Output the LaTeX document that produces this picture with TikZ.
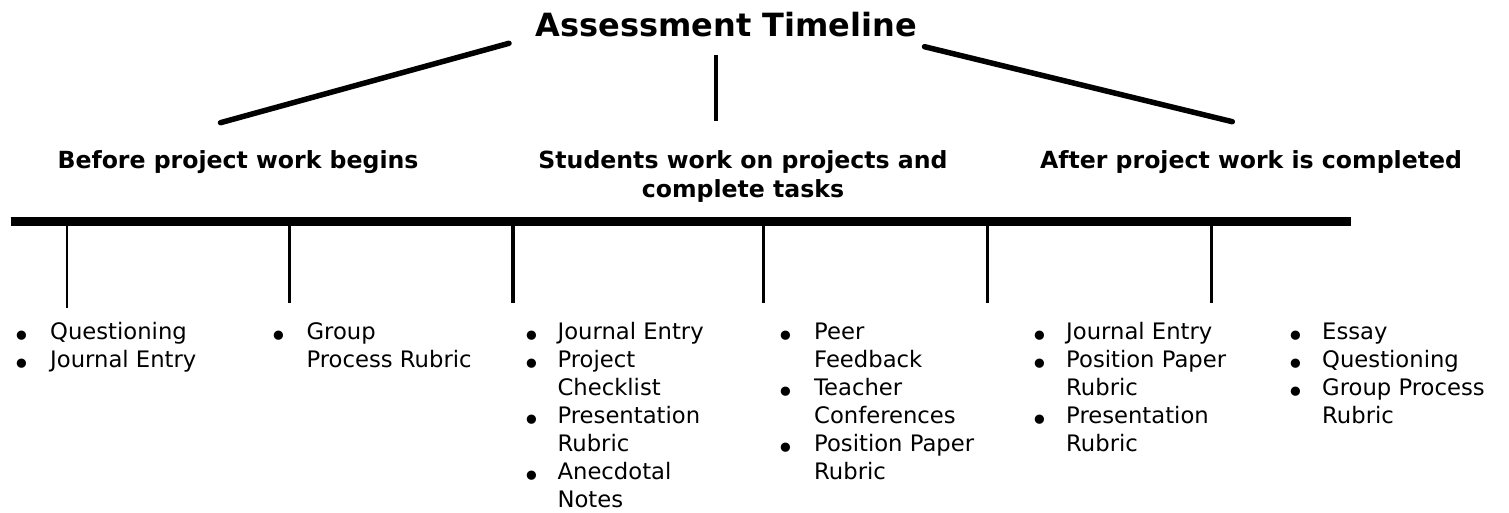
\documentclass[tikz,border=0pt]{standalone}
\usepackage{fontspec}
\usepackage{graphicx}
\setmainfont{DejaVu Sans}
\newcommand\bul[1]{\llap{\makebox[0pt][c]{\raisebox{-7.5pt}{\scalebox{1.4}{•}}}\hspace{#1}}}
\begin{document}
\begin{tikzpicture}[x=1pt,y=-1pt,
  titlestyle/.style={inner sep=0pt, anchor=base, font=\fontsize{32pt}{38pt}\selectfont\bfseries},
  phase/.style={inner sep=0pt, anchor=base, font=\fontsize{23.6pt}{28.5pt}\selectfont\bfseries},
  itm/.style={inner sep=0pt, anchor=base west, font=\fontsize{22.7pt}{28pt}\selectfont},
  branch/.style={line width=5.5pt, line cap=round},
  stem/.style={line width=4.5pt},
  axis/.style={line width=8.5pt},
  tickmain/.style={line width=3.5pt},
  tickthin/.style={line width=2pt}]
\useasboundingbox (0,0) rectangle (1509,513);

% title
\node[titlestyle] (T) at (726.5,36.5) {Assessment Timeline};

% branches from title
\coordinate (bl1) at (509,43.3);
\coordinate (bl2) at (220.5,122.7);
\coordinate (bm1) at (716,55);
\coordinate (bm2) at (716,121);
\coordinate (br1) at (924.5,46.7);
\coordinate (br2) at (1232.3,121.7);
\draw[branch] (bl1) -- (bl2);
\draw[stem] (bm1) -- (bm2);
\draw[branch] (br1) -- (br2);

% phase labels
\node[phase] (P1) at (238,168.5) {Before project work begins};
\node[phase] (P2) at (743,168.5) {\begin{tabular}[t]{@{}c@{}}Students work on projects and\\ complete tasks\end{tabular}};
\node[phase] (P3) at (1251,168.5) {After project work is completed};

% timeline
\coordinate (A0) at (10.5,221.5);
\coordinate (A1) at (1351,221.5);
\draw[axis] (A0) -- (A1);

% ticks
\coordinate (t1) at (66.5,221.5);  \coordinate (b1) at (66.5,308);
\coordinate (t2) at (289.4,221.5); \coordinate (b2) at (289.4,302.5);
\coordinate (t3) at (512.9,221.5); \coordinate (b3) at (512.9,302.5);
\coordinate (t4) at (763.6,221.5); \coordinate (b4) at (763.6,302.5);
\coordinate (t5) at (987.5,221.5); \coordinate (b5) at (987.5,302.5);
\coordinate (t6) at (1211.5,221.5);\coordinate (b6) at (1211.5,302.5);
\draw[tickthin] (t1) -- (b1);
\draw[tickmain] (t2) -- (b2);
\draw[tickmain] (t3) -- (b3);
\draw[tickmain] (t4) -- (b4);
\draw[tickmain] (t5) -- (b5);
\draw[tickmain] (t6) -- (b6);

% lists
\node[itm] (L1) at (50,339.5) {\begin{tabular}[t]{@{}l@{}}\bul{28pt}Questioning\\ \bul{28pt}Journal Entry\end{tabular}};
\node[itm] (L2) at (306.4,339.5) {\begin{tabular}[t]{@{}l@{}}\bul{27.4pt}Group\\ Process Rubric\end{tabular}};
\node[itm] (L3) at (557.4,339.5) {\begin{tabular}[t]{@{}l@{}}\bul{25.4pt}Journal Entry\\ \bul{25.4pt}Project\\ Checklist\\ \bul{25.4pt}Presentation\\ Rubric\\ \bul{25.4pt}Anecdotal\\ Notes\end{tabular}};
\node[itm] (L4) at (814,339.5) {\begin{tabular}[t]{@{}l@{}}\bul{28pt}Peer\\ Feedback\\ \bul{28pt}Teacher\\ Conferences\\ \bul{28pt}Position Paper\\ Rubric\end{tabular}};
\node[itm] (L5) at (1066,339.5) {\begin{tabular}[t]{@{}l@{}}\bul{26pt}Journal Entry\\ \bul{26pt}Position Paper\\ Rubric\\ \bul{26pt}Presentation\\ Rubric\end{tabular}};
\node[itm] (L6) at (1322,339.5) {\begin{tabular}[t]{@{}l@{}}\bul{26pt}Essay\\ \bul{26pt}Questioning\\ \bul{26pt}Group Process\\ Rubric\end{tabular}};
\end{tikzpicture}
\end{document}
